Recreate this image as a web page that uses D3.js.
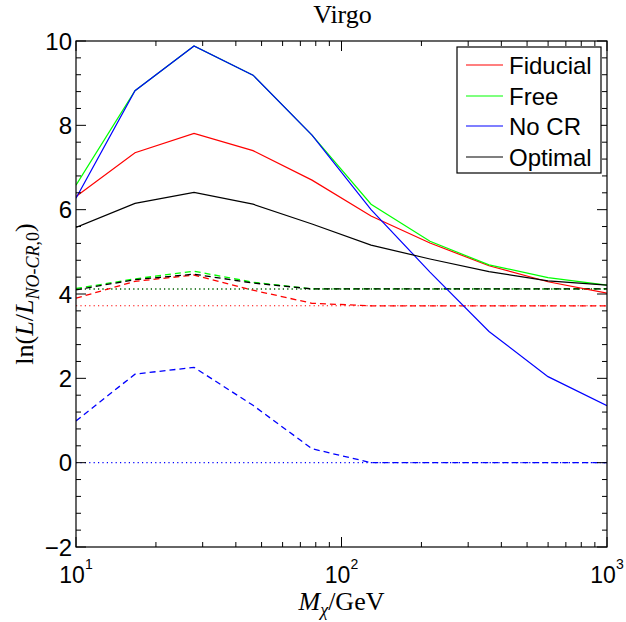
<!DOCTYPE html>
<html>
<head>
<meta charset="utf-8">
<script src="https://cdn.jsdelivr.net/npm/d3@7"></script>
<style>
  body { margin: 0; background: #fff; }
  svg { display: block; }
  .tick-label { font-family: "Liberation Sans", Arial, sans-serif; }
  .tex { font-family: "Liberation Serif", "Times New Roman", serif; }
</style>
</head>
<body>
<div id="chart"></div>
<script>
// dark matter mass grid (GeV)
const mass = [10, 16.68, 27.83, 46.42, 77.43, 129.2, 215.4, 359.4, 599.5, 1000];

// solid lines: best fit
const fiducial = [6.31, 7.35, 7.81, 7.40, 6.70, 5.85, 5.21, 4.67, 4.29, 4.02];
const free     = [6.58, 8.82, 9.88, 9.19, 7.77, 6.13, 5.25, 4.69, 4.39, 4.21];
const noCR     = [6.27, 8.82, 9.88, 9.19, 7.77, 6.00, 4.52, 3.11, 2.04, 1.35];
const optimal  = [5.58, 6.15, 6.41, 6.13, 5.66, 5.16, 4.83, 4.53, 4.31, 4.21];

// dashed lines
const fiducialDash = [3.90, 4.30, 4.45, 4.09, 3.78, 3.72, 3.72, 3.72, 3.72, 3.72];
const freeDash     = [4.13, 4.36, 4.54, 4.28, 4.12, 4.12, 4.12, 4.12, 4.12, 4.12];
const noCRDash     = [0.99, 2.10, 2.26, 1.36, 0.33, 0.00, 0.00, 0.00, 0.00, 0.00];
const optimalDash  = [4.10, 4.34, 4.47, 4.26, 4.12, 4.12, 4.12, 4.12, 4.12, 4.12];

// dotted reference levels
const baseLevels = [3.72, 4.12, 0.0, 4.12];

const names  = ["Fiducial", "Free", "No CR", "Optimal"];
const colors = ["#ff0000", "#00ff00", "#0000ff", "#000000"];
const solidSeries  = [fiducial, free, noCR, optimal];
const dashedSeries = [fiducialDash, freeDash, noCRDash, optimalDash];

const yMajor = [-2, 0, 2, 4, 6, 8, 10];
const xMajor = [10, 100, 1000];
const xSup   = ["1", "2", "3"];

const width = 626, height = 622;
const margin = { top: 41, right: 19, bottom: 75, left: 76 };
const iw = width - margin.left - margin.right;
const ih = height - margin.top - margin.bottom;

const svg = d3.select("#chart").append("svg")
    .attr("width", width).attr("height", height);

const g = svg.append("g").attr("transform", `translate(${margin.left},${margin.top})`);

const x = d3.scaleLog().domain([10, 1000]).range([0, iw]);
const y = d3.scaleLinear().domain([-2, 10]).range([ih, 0]);

svg.append("clipPath").attr("id", "clip")
    .append("rect").attr("width", iw).attr("height", ih);

const plot = g.append("g").attr("clip-path", "url(#clip)");

const line = d3.line().x((d, i) => x(mass[i])).y(d => y(d));

// dotted levels
baseLevels.forEach((v, k) => {
    plot.append("line")
        .attr("x1", x(10)).attr("x2", x(1000))
        .attr("y1", y(v)).attr("y2", y(v))
        .attr("stroke", colors[k]).attr("stroke-width", 1.1)
        .attr("stroke-dasharray", "1.2,3.2");
});

// dashed
dashedSeries.forEach((s, k) => {
    plot.append("path").datum(s)
        .attr("d", line).attr("fill", "none")
        .attr("stroke", colors[k]).attr("stroke-width", 1.3)
        .attr("stroke-dasharray", "6,4");
});

// solid
solidSeries.forEach((s, k) => {
    plot.append("path").datum(s)
        .attr("d", line).attr("fill", "none")
        .attr("stroke", colors[k]).attr("stroke-width", 1.2);
});

// frame
g.append("rect").attr("width", iw).attr("height", ih)
    .attr("fill", "none").attr("stroke", "#000").attr("stroke-width", 1.2);

// ticks (inside, mirrored)
const yTicks = d3.range(-2, 10.001, 0.4);
yTicks.forEach(v => {
    const major = yMajor.some(m => Math.abs(m - v) < 1e-6);
    const len = major ? 10 : 5;
    g.append("line").attr("x1", 0).attr("x2", len).attr("y1", y(v)).attr("y2", y(v))
        .attr("stroke", "#000");
    g.append("line").attr("x1", iw).attr("x2", iw - len).attr("y1", y(v)).attr("y2", y(v))
        .attr("stroke", "#000");
});
const xTicks = [];
[10, 100].forEach(dec => { for (let m = 1; m < 10; m++) xTicks.push(dec * m); });
xTicks.push(1000);
xTicks.forEach(v => {
    const major = xMajor.includes(v);
    const len = major ? 10 : 5;
    g.append("line").attr("x1", x(v)).attr("x2", x(v)).attr("y1", ih).attr("y2", ih - len)
        .attr("stroke", "#000");
    g.append("line").attr("x1", x(v)).attr("x2", x(v)).attr("y1", 0).attr("y2", len)
        .attr("stroke", "#000");
});

// y tick labels
yMajor.forEach(v => {
    g.append("text").attr("class", "tick-label")
        .attr("x", -4).attr("y", y(v)).attr("dy", "0.36em")
        .attr("text-anchor", "end").attr("font-size", 24)
        .text(v < 0 ? "\u2212" + Math.abs(v) : v);
});

// x tick labels
xMajor.forEach((v, i) => {
    const t = g.append("text").attr("class", "tick-label")
        .attr("x", x(v)).attr("y", ih + 36)
        .attr("text-anchor", "middle").attr("font-size", 23);
    t.append("tspan").text("10");
    t.append("tspan").attr("dy", -14).attr("font-size", 14).text(xSup[i]);
});

// title
svg.append("text").attr("class", "tex")
    .attr("x", margin.left + iw / 2 + 1).attr("y", 23)
    .attr("text-anchor", "middle").attr("font-size", 26).text("Virgo");

// x label
const xl = svg.append("text").attr("class", "tex")
    .attr("x", margin.left + iw / 2).attr("y", 610)
    .attr("text-anchor", "middle").attr("font-size", 26);
xl.append("tspan").attr("font-style", "italic").text("M");
xl.append("tspan").attr("font-style", "italic").attr("font-size", 18).attr("dy", 6).text("\u03c7");
xl.append("tspan").attr("dy", -6).text("/GeV");

// y label
const yl = svg.append("text").attr("class", "tex")
    .attr("transform", `translate(33,${margin.top + ih / 2}) rotate(-90)`)
    .attr("text-anchor", "middle").attr("font-size", 26);
yl.append("tspan").text("ln(");
yl.append("tspan").attr("font-style", "italic").text("L");
yl.append("tspan").text("/");
yl.append("tspan").attr("font-style", "italic").text("L");
yl.append("tspan").attr("font-style", "italic").attr("font-size", 18).attr("dy", 6).text("NO");
yl.append("tspan").attr("font-size", 18).text("-");
yl.append("tspan").attr("font-style", "italic").attr("font-size", 18).text("CR");
yl.append("tspan").attr("font-size", 18).text(",0");
yl.append("tspan").attr("dy", -6).text(")");

// legend
const lg = svg.append("g").attr("transform", "translate(457,47)");
lg.append("rect").attr("width", 144).attr("height", 126)
    .attr("fill", "#fff").attr("stroke", "#000").attr("stroke-width", 1.2);
names.forEach((n, k) => {
    const cy = Math.round(18 + k * 30.5);
    lg.append("line").attr("x1", 9).attr("x2", 46).attr("y1", cy).attr("y2", cy)
        .attr("stroke", colors[k]).attr("stroke-width", 1.2);
    lg.append("text").attr("class", "tick-label")
        .attr("x", 52).attr("y", cy).attr("dy", "0.36em")
        .attr("font-size", 24).text(n);
});
</script>
</body>
</html>
